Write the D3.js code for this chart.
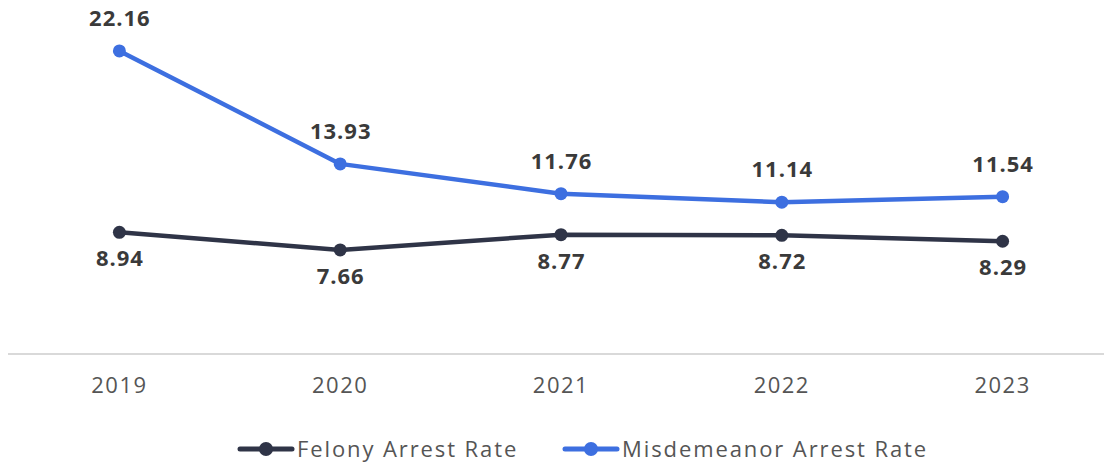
<!DOCTYPE html>
<html>
<head>
<meta charset="utf-8">
<script src="https://cdn.jsdelivr.net/npm/d3@7"></script>
<style>
  body { margin: 0; background: #fff; }
  text { font-family: "Open Sans", "Noto Sans", sans-serif; }
</style>
</head>
<body>
<script>
var width = 1104, height = 462;

// data
var years = ["2019", "2020", "2021", "2022", "2023"];
var felony = [8.94, 7.66, 8.77, 8.72, 8.29];
var misdemeanor = [22.16, 13.93, 11.76, 11.14, 11.54];
var seriesNames = ["Felony Arrest Rate", "Misdemeanor Arrest Rate"];
var seriesColors = ["#2f3447", "#3d6fe0"];

var svg = d3.select("body").append("svg")
    .attr("width", width)
    .attr("height", height);

var x = d3.scaleBand().domain(years).range([9, 1113]);
var y = d3.scaleLinear().domain([0, 25]).range([355, 12]);

function cx(d) { return x(d) + x.bandwidth() / 2; }

// baseline
svg.append("line")
    .attr("x1", 8).attr("x2", width)
    .attr("y1", 354).attr("y2", 354)
    .attr("stroke", "#d9d9d9")
    .attr("stroke-width", 2);

// x axis labels
svg.append("g").selectAll("text")
    .data(years)
    .enter().append("text")
    .attr("x", cx)
    .attr("y", 393)
    .attr("text-anchor", "middle")
    .attr("font-size", 22)
    .attr("letter-spacing", 1.5)
    .attr("fill", "#555")
    .text(function(d) { return d; });

var line = d3.line()
    .x(function(d, i) { return cx(years[i]); })
    .y(function(d) { return y(d); });

var series = [felony, misdemeanor];

series.forEach(function(vals, s) {
    var g = svg.append("g");
    g.append("path")
        .datum(vals)
        .attr("fill", "none")
        .attr("stroke", seriesColors[s])
        .attr("stroke-width", 4.5)
        .attr("stroke-linejoin", "round")
        .attr("d", line);
    g.selectAll("circle")
        .data(vals)
        .enter().append("circle")
        .attr("cx", function(d, i) { return cx(years[i]); })
        .attr("cy", function(d) { return y(d); })
        .attr("r", 6.5)
        .attr("fill", seriesColors[s]);
    g.selectAll("text")
        .data(vals)
        .enter().append("text")
        .attr("x", function(d, i) { return cx(years[i]) + 0.5; })
        .attr("y", function(d) { return s == 1 ? y(d) - 25 : y(d) + 34; })
        .attr("text-anchor", "middle")
        .attr("font-size", 22)
        .attr("font-weight", "bold")
        .attr("letter-spacing", 1)
        .attr("fill", "#3a3a3a")
        .text(function(d) { return d.toFixed(2); });
});

// legend
var legendX = [240, 565];
seriesNames.forEach(function(name, s) {
    var lg = svg.append("g").attr("transform", "translate(" + legendX[s] + ",449)");
    lg.append("line")
        .attr("x1", 0).attr("x2", 52)
        .attr("stroke", seriesColors[s])
        .attr("stroke-width", 5)
        .attr("stroke-linecap", "round");
    lg.append("circle")
        .attr("cx", 26).attr("r", 7)
        .attr("fill", seriesColors[s]);
    lg.append("text")
        .attr("x", 57)
        .attr("y", 8)
        .attr("font-size", 22)
        .attr("letter-spacing", 1.9)
        .attr("fill", "#555")
        .text(name);
});
</script>
</body>
</html>
